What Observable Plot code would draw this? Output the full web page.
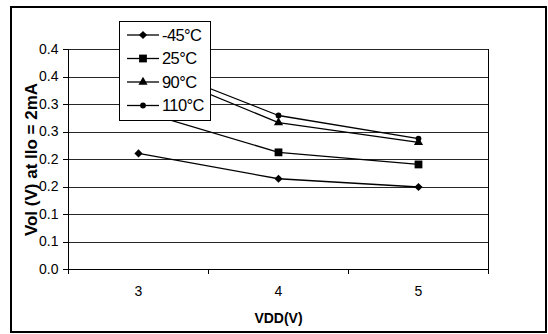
<!DOCTYPE html>
<html><head><meta charset="utf-8">
<script src="https://cdn.jsdelivr.net/npm/d3@7"></script>
<script src="https://cdn.jsdelivr.net/npm/@observablehq/plot@0.6"></script>
<style>
body{margin:0;background:#fff;}
#wrap{position:relative;width:548px;height:334px;overflow:hidden;font-family:"Liberation Sans",Arial,sans-serif;}
#frame{position:absolute;left:10px;top:6px;width:533px;height:323px;border:2px solid #000;pointer-events:none;}
#wrap svg{position:absolute;left:0;top:0;}
</style></head><body><div id="wrap"><div id="frame"></div></div>
<script>
// ---- data ----
const vdd = [3, 4, 5];
const seriesNames = ["-45°C", "25°C", "90°C", "110°C"];
const seriesSymbols = ["diamond2", "square", "triangle", "circle"];
const volMinus45 = [0.211, 0.165, 0.150];
const vol25 = [0.289, 0.213, 0.191];
const vol90 = [0.372, 0.267, 0.231];
const vol110 = [0.380, 0.280, 0.238];
const yTicks = [0, 0.05, 0.1, 0.15, 0.2, 0.25, 0.3, 0.35, 0.4];
const yTickLabels = ["0.0", "0.1", "0.1", "0.2", "0.2", "0.3", "0.3", "0.4", "0.4"];
const xBoundaryTicks = [2.5, 3.5, 4.5, 5.5];
const xTitle = "VDD(V)";
const yTitle = "Vol (V) at IIo = 2mA";

const allSeries = [volMinus45, vol25, vol90, vol110];
const symbolR = {"diamond2": 3.7, "square": 4.4, "triangle": 3.4, "circle": 2.9};
const rows = [];
allSeries.forEach((vals, s) => vals.forEach((v, i) => rows.push({series: seriesNames[s], sym: seriesSymbols[s], vdd: vdd[i], v})));

const chart = Plot.plot({
  width: 548, height: 334,
  marginLeft: 68, marginRight: 60, marginTop: 49, marginBottom: 65,
  style: {fontFamily: "'Liberation Sans', Arial, sans-serif", fontSize: "14px", color: "#000", background: "transparent", overflow: "visible"},
  x: {type: "linear", domain: [2.5, 5.5], label: null},
  y: {domain: [0, 0.4], label: null},
  marks: [
    Plot.gridY(yTicks, {stroke: "#000", strokeOpacity: 0.85, shapeRendering: "crispEdges"}),
    Plot.ruleX([5.5], {y1: 0, y2: 0.4, stroke: "#000", shapeRendering: "crispEdges"}),
    Plot.ruleX([2.5], {y1: 0, y2: 0.4, stroke: "#000", shapeRendering: "crispEdges"}),
    Plot.ruleY([0], {stroke: "#000", shapeRendering: "crispEdges"}),
    Plot.axisY({ticks: yTicks, tickFormat: (d, i) => yTickLabels[i], tickSize: 5, tickPadding: 5, fontSize: 14, label: null, shapeRendering: "crispEdges"}),
    Plot.axisX({ticks: xBoundaryTicks, tickFormat: () => "", tickSize: 5, label: null, shapeRendering: "crispEdges"}),
    Plot.axisX({ticks: vdd, tickFormat: d => String(d), tickSize: 0, tickPadding: 17, fontSize: 14, label: null}),
    Plot.line(rows, {x: "vdd", y: "v", z: "series", stroke: "#000", strokeWidth: 1.3}),
    ...seriesSymbols.map((sym, s) => Plot.dot(rows.filter(d => d.sym === sym), {x: "vdd", y: "v", symbol: sym, r: symbolR[sym], fill: "#000", stroke: "none"})),
    Plot.text([xTitle], {frameAnchor: "bottom", dy: 53, fontWeight: "bold", fontSize: 14, letterSpacing: "-0.4px"}),
    Plot.text([yTitle], {frameAnchor: "left", dx: -37, rotate: -90, textAnchor: "middle", fontWeight: "bold", fontSize: 17})
  ]
});

// legend (opaque, drawn on top)
const svg = d3.select(chart);
const lg = svg.append("g").attr("class", "legend").attr("text-anchor", "start");
lg.append("rect").attr("x", 119.5).attr("y", 21.5).attr("width", 91).attr("height", 99)
  .attr("fill", "#fff").attr("stroke", "#000").attr("stroke-width", 1);
const symMap = {"diamond2": d3.symbolDiamond2, "square": d3.symbolSquare, "triangle": d3.symbolTriangle, "circle": d3.symbolCircle};
seriesNames.forEach((name, s) => {
  const yy = 35 + s * 23.5;
  const g = lg.append("g").attr("transform", `translate(0,${yy})`);
  g.append("line").attr("x1", 127).attr("x2", 159).attr("y1", 0).attr("y2", 0).attr("stroke", "#000").attr("stroke-width", 1.3);
  const r = symbolR[seriesSymbols[s]];
  g.append("path").attr("transform", "translate(143,0)")
    .attr("d", d3.symbol(symMap[seriesSymbols[s]], Math.PI * r * r)()).attr("fill", "#000");
  g.append("text").attr("x", 162).attr("y", 0).attr("dy", "0.36em").attr("text-anchor", "start")
    .attr("font-size", 16.5).attr("letter-spacing", "-0.6px").attr("fill", "#000").text(name);
});

document.getElementById("wrap").prepend(chart);
</script>
</body></html>
